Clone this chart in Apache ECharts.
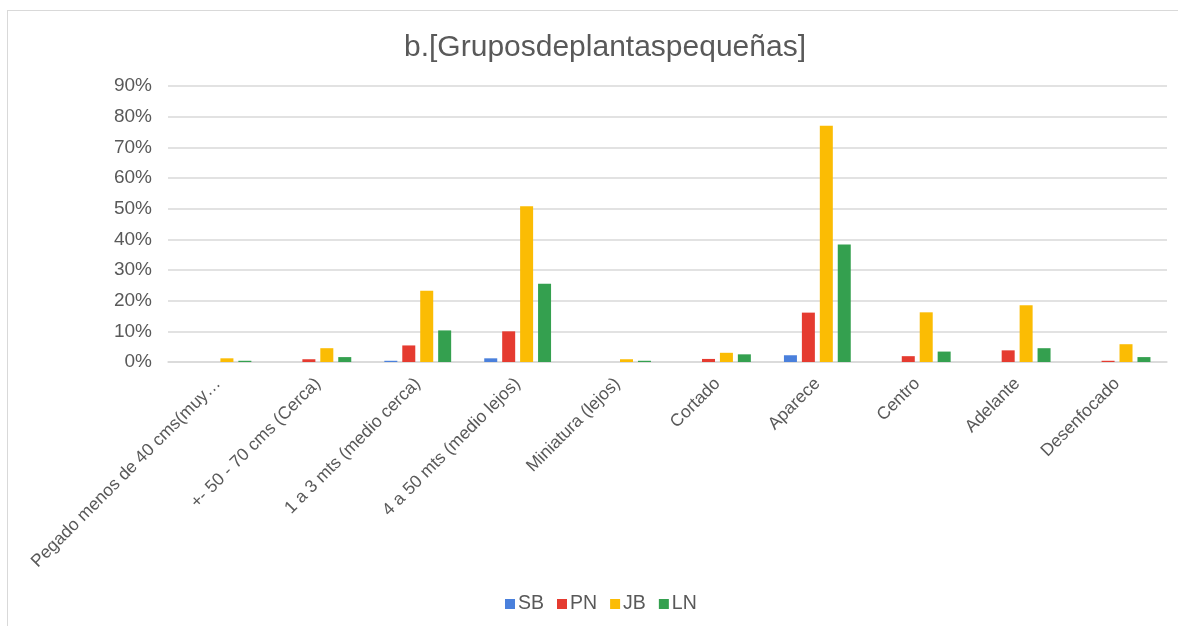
<!DOCTYPE html>
<html>
<head>
<meta charset="utf-8">
<script src="https://cdn.jsdelivr.net/npm/echarts@6/dist/echarts.min.js"></script>
<style>
  html, body { margin: 0; padding: 0; background: #ffffff; }
  #frame { position: absolute; left: 7px; top: 10px; width: 1200px; height: 640px;
           border-left: 1px solid #d9d9d9; border-top: 1px solid #d9d9d9; }
  #chart { position: absolute; left: 0; top: 0; width: 1178px; height: 626px; }
</style>
</head>
<body>
<div id="frame"></div>
<div id="chart"></div>
<script>
// Categories on the x axis (as shown, the first one is cut short)
const categories = [
  'Pegado menos de 40 cms(muy…',
  '+- 50 - 70 cms (Cerca)',
  '1 a 3 mts (medio cerca)',
  '4 a 50 mts (medio lejos)',
  'Miniatura (lejos)',
  'Cortado',
  'Aparece',
  'Centro',
  'Adelante',
  'Desenfocado'
];

// Share per group, in percent
const SB = [0, 0, 0.4, 1.2, 0, 0, 2.2, 0, 0, 0];
const PN = [0, 0.9, 5.4, 10.0, 0, 1.0, 16.1, 1.9, 3.8, 0.4];
const JB = [1.2, 4.5, 23.2, 50.8, 0.9, 3.0, 77.0, 16.2, 18.5, 5.8];
const LN = [0.4, 1.6, 10.3, 25.5, 0.4, 2.5, 38.3, 3.4, 4.5, 1.6];

const seriesNames = ['SB', 'PN', 'JB', 'LN'];
const seriesData = [SB, PN, JB, LN];
const seriesColors = ['#4a80dc', '#e53b30', '#fbbc04', '#34a04f'];

const textColor = '#595959';
const fontFamily = 'Liberation Sans, Arial, sans-serif';

const chart = echarts.init(document.getElementById('chart'), null, { renderer: 'canvas' });

chart.setOption({
  animation: false,
  backgroundColor: 'transparent',
  textStyle: { fontFamily: fontFamily },
  title: {
    text: 'b.[Gruposdeplantaspequeñas]',
    left: 600,
    top: 28,
    textAlign: 'center',
    textStyle: { color: textColor, fontSize: 30, fontWeight: 'normal', fontFamily: fontFamily }
  },
  legend: {
    data: seriesNames,
    left: 505,
    top: 594,
    padding: 0,
    icon: 'rect',
    itemWidth: 10,
    itemHeight: 10,
    itemGap: 13,
    textStyle: { color: textColor, fontSize: 19.5, fontFamily: fontFamily, padding: [0, 0, 0, -2] }
  },
  grid: { left: 168, right: 11, top: 86, bottom: 264, containLabel: false },
  xAxis: {
    type: 'category',
    data: categories,
    axisLine: { show: true, lineStyle: { color: '#d9d9d9', width: 1.5 } },
    axisTick: { show: false },
    axisLabel: {
      interval: 0,
      rotate: 45,
      color: textColor,
      fontSize: 17.5,
      fontFamily: fontFamily,
      margin: 19
    }
  },
  yAxis: {
    type: 'value',
    min: 0,
    max: 90,
    interval: 10,
    axisLine: { show: false },
    axisTick: { show: false },
    axisLabel: {
      color: textColor,
      fontSize: 19,
      fontFamily: fontFamily,
      margin: 16,
      formatter: v => v + '%'
    },
    splitLine: { lineStyle: { color: '#d9d9d9', width: 1.5 } }
  },
  series: seriesNames.map((name, i) => ({
    name: name,
    type: 'bar',
    data: seriesData[i],
    barWidth: 13,
    barGap: '38%',
    itemStyle: { color: seriesColors[i] }
  }))
});
</script>
</body>
</html>
